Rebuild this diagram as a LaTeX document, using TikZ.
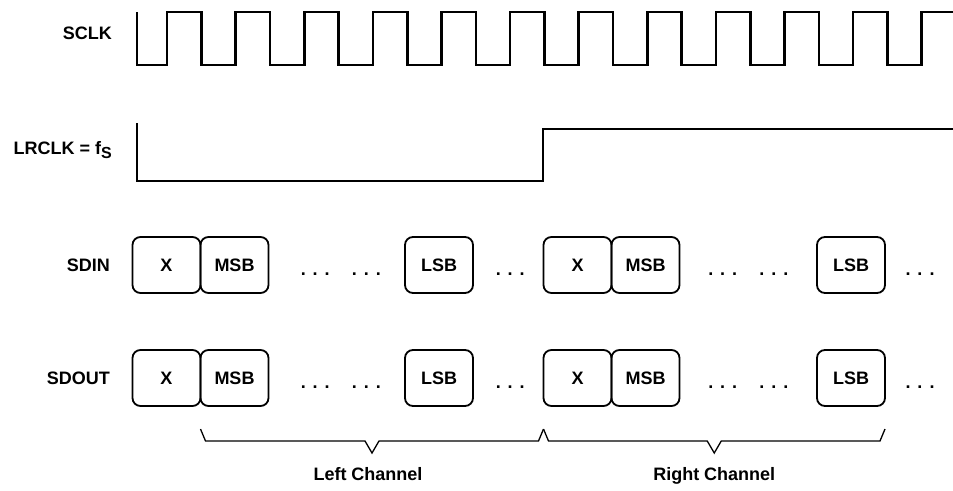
\documentclass[tikz,border=0pt]{standalone}
\usepackage{fontspec}
\setmainfont{Liberation Sans}
\usepackage{tikz}
\usetikzlibrary{positioning,calc}

\newcommand{\dotrun}{.\hspace{7pt}.\hspace{7pt}.}

\begin{document}
\begin{tikzpicture}[x=1pt, y=-1pt, node distance=0pt,
    every node/.style={font=\fontsize{18}{21}\selectfont\bfseries},
    signal/.style={line width=2.6pt, line join=miter},
    slot/.style={draw, line width=1.8pt, rounded corners=8pt, outer sep=0pt,
        minimum width=68pt, minimum height=56pt, inner sep=0pt},
    sig label/.style={anchor=east, inner sep=0pt},
    brc/.style={line width=1.3pt}]
    \useasboundingbox (0,0) rectangle (953,490);

    % clocks
    \node [sig label] (SCLK) at (112,33) {SCLK};
    \draw [signal] (137,12) -- (137,65)
        foreach \k in {0,...,10} {
            -- ({167+68.6*\k},65) -- ({167+68.6*\k},12)
            -- ({201.5+68.6*\k},12) -- ({201.5+68.6*\k},65)}
        -- (921.6,65) -- (921.6,12) -- (953,12);

    \node [sig label] (LRCLK) at (112,150) {LRCLK = f\raisebox{-0.35ex}{\fontsize{16}{18}\selectfont S}};
    \draw [signal] (137,123) -- (137,181) -- (543,181) -- (543,129) -- (953,129);

    % data lines
    \foreach \row/\name/\y in {A/SDIN/265, B/SDOUT/378} {
        \node [sig label] (\name) at (110,\y) {\name};
        \node [slot] (x\row) at (166.5,\y) {X};
        \node [slot, right=of x\row] (msb\row) {MSB};
        \node [slot] (lsb\row) at (439,\y) {LSB};
        \node [slot] (xx\row) at (577.5,\y) {X};
        \node [slot, right=of xx\row] (mmsb\row) {MSB};
        \node [slot] (llsb\row) at (851,\y) {LSB};
        \node [anchor=base] (dots\row1) at ($(msb\row.east)!0.5!(lsb\row.west)+(4,10)$) {\dotrun\hspace{22pt}\dotrun};
        \node [anchor=base] (dots\row2) at ($(lsb\row.east)!0.5!(xx\row.west)+(2,10)$) {\dotrun};
        \node [anchor=base] (dots\row3) at ($(mmsb\row.east)!0.5!(llsb\row.west)+(0,10)$) {\dotrun\hspace{22pt}\dotrun};
        \node [anchor=base] (dots\row4) at (920,\y+10) {\dotrun};
    }

    % channel braces
    \coordinate (Ls) at ([yshift=-23pt]msbB.south west);
    \coordinate (Le) at ([yshift=-23pt]xxB.south west);
    \coordinate (Re) at ([yshift=-23pt]llsbB.south east);
    \draw [brc] (Ls) -- ++(5,12) -- ($(Ls)!0.5!(Le)+(-7,12)$) -- ++(7,12) -- ++(7,-12)
        -- ($(Le)+(-5,12)$) -- (Le);
    \draw [brc] (Le) -- ++(5,12) -- ($(Le)!0.5!(Re)+(-7,12)$) -- ++(7,12) -- ++(7,-12)
        -- ($(Re)+(-5,12)$) -- (Re);
    \node [anchor=base] (leftch) at ($(Ls)!0.5!(Le)+(-4,51)$) {Left Channel};
    \node [anchor=base] (rightch) at ($(Le)!0.5!(Re)+(0,51)$) {Right Channel};
\end{tikzpicture}
\end{document}
